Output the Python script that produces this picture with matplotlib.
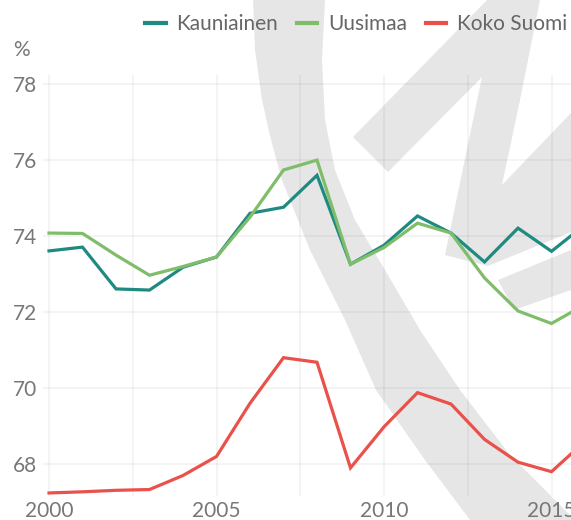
import matplotlib
matplotlib.use("Agg")
import matplotlib.pyplot as plt
from matplotlib.patches import Polygon
from matplotlib.lines import Line2D

plt.rcParams['font.family'] = ['Lato', 'DejaVu Sans']

# Data
years = list(range(2000, 2017))
kauniainen = [73.61, 73.71, 72.61, 72.58, 73.18, 73.45, 74.60, 74.76, 75.60,
              73.26, 73.76, 74.53, 74.08, 73.32, 74.21, 73.60, 74.30]
uusimaa = [74.08, 74.07, 73.50, 72.97, 73.20, 73.45, 74.50, 75.74, 76.00,
           73.26, 73.70, 74.34, 74.08, 72.90, 72.03, 71.70, 72.20]
koko_suomi = [67.24, 67.27, 67.31, 67.33, 67.70, 68.20, 69.60, 70.80, 70.68,
              67.90, 68.98, 69.88, 69.58, 68.65, 68.05, 67.80, 68.60]
series_names = ['Kauniainen', 'Uusimaa', 'Koko Suomi']
colors = ['#1f8a82', '#7fbd6a', '#e9514a']
yticks = [68, 70, 72, 74, 76, 78]
xticks = [2000, 2005, 2010, 2015]

W, H = 571, 520
fig = plt.figure(figsize=(W / 100, H / 100), dpi=100)

def px(pts):
    return [(x / W, 1 - y / H) for x, y in pts]

# background watermark (light grey logo)
wm = '#e6e6e6'
arc_left = [(253, 0), (255, 50), (262, 100), (271, 140), (282, 180), (310, 250),
            (345, 320), (376, 390), (425, 460), (470, 520)]
arc_right = [(325, 0), (322, 60), (325, 120), (335, 170), (355, 220), (385, 270),
             (420, 330), (460, 390), (510, 455), (575, 520)]
arc = arc_left + arc_right[::-1]
zig = [(353, 137), (487, 0), (540, 0), (520, 100), (502, 185), (571, 113),
       (571, 232), (488, 266), (445, 255), (482, 77), (388, 172)]
low = [(498, 280), (571, 250), (571, 290), (514, 310)]
for shape in (arc, zig, low):
    fig.patches.append(Polygon(px(shape), closed=True, transform=fig.transFigure,
                               facecolor=wm, edgecolor='none', zorder=0))

ax = fig.add_axes([43 / W, 1 - 496 / H, 1 - 43 / W, (496 - 75) / H])
ax.set_zorder(1)
ax.patch.set_alpha(0)
for name, vals, c in zip(series_names, [kauniainen, uusimaa, koko_suomi], colors):
    ax.plot(years, vals, color=c, lw=2.3, solid_joinstyle='miter', zorder=3)

ax.set_xlim(2000 - 6 / 33.5, 2000 + (571 - 49) / 33.5)
ax.set_ylim(67.16, 78.24)
ax.set_yticks(yticks)
ax.set_xticks(xticks)
ax.set_xticks([2002.5, 2007.5, 2012.5], minor=True)
ax.grid(True, which='both', color='black', alpha=0.05, lw=1.2)
ax.set_axisbelow(True)
for s in ax.spines.values():
    s.set_visible(False)
ax.tick_params(which='both', length=0, labelsize=15, labelcolor='#777777')
ax.tick_params(axis='y', pad=4)
ax.tick_params(axis='x', pad=3.5)

fig.text(13 / W, 1 - 50 / H, '%', fontsize=15, color='#777777', va='center', ha='left')

handles = [Line2D([], [], color=c, lw=3) for c in colors]
fig.legend(handles, series_names, loc='center right', bbox_to_anchor=(567 / W, 1 - 24 / H),
           ncol=3, frameon=False, fontsize=15, labelcolor='#666666',
           handlelength=1.0, handletextpad=0.5, columnspacing=0.9, borderaxespad=0,
           borderpad=0)

fig.savefig('out.png', dpi=100)
